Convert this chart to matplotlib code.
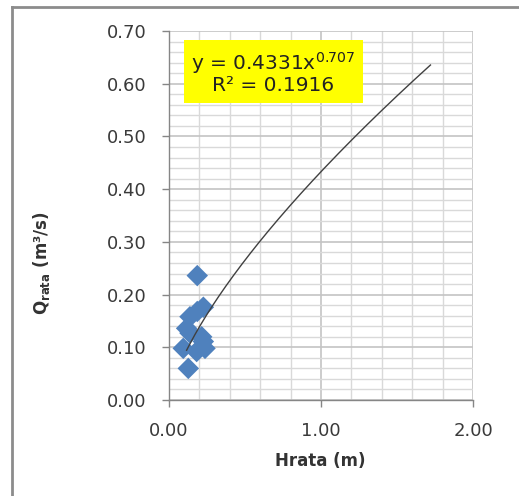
import numpy as np
import matplotlib
matplotlib.use('Agg')
import matplotlib.pyplot as plt
from matplotlib.lines import Line2D
from matplotlib.ticker import MultipleLocator, FormatStrFormatter

# measured points (H, Q)
h_rata = [0.186, 0.226, 0.186, 0.138, 0.116, 0.138, 0.215, 0.226, 0.094, 0.182, 0.237, 0.127]
q_rata = [0.236, 0.176, 0.168, 0.158, 0.136, 0.127, 0.120, 0.111, 0.098, 0.092, 0.098, 0.060]

# power trendline y = a * x^b
coef_a = 0.4331
coef_b = 0.707
trend_start = 0.116
trend_end = 1.72

fig = plt.figure(figsize=(5.19, 4.96), dpi=100)
ax = fig.add_axes([0.3256, 0.1935, 0.5858, 0.744])

ax.set_xlim(0, 2.0)
ax.set_ylim(0, 0.70)
ax.xaxis.set_major_locator(MultipleLocator(1.0))
ax.xaxis.set_minor_locator(MultipleLocator(0.2))
ax.yaxis.set_major_locator(MultipleLocator(0.1))
ax.yaxis.set_minor_locator(MultipleLocator(0.02))
ax.xaxis.set_major_formatter(FormatStrFormatter('%.2f'))
ax.yaxis.set_major_formatter(FormatStrFormatter('%.2f'))

ax.grid(which='minor', color='#d9d9d9', lw=1.0)
ax.grid(which='major', color='#c4c4c4', lw=1.2)
ax.set_axisbelow(True)

for s in ['top', 'right']:
    ax.spines[s].set_visible(False)
for s in ['left', 'bottom']:
    ax.spines[s].set_color('#868686')
    ax.spines[s].set_linewidth(1.0)

ax.tick_params(which='major', length=5, width=1, color='#868686', pad=11,
               labelsize=13, labelcolor='#3a3a3a')
ax.tick_params(which='minor', length=0)

ax.scatter(h_rata, q_rata, marker='D', s=120, color='#4f81bd', edgecolors='none', zorder=3)

xs = np.linspace(trend_start, trend_end, 200)
ax.plot(xs, coef_a * xs ** coef_b, color='#404040', lw=1.0, zorder=4)

ax.text(0.687, 0.621, 'y = 0.4331x$^{0.707}$\nR² = 0.1916', ha='center', va='center',
        fontsize=14.5, linespacing=1.0, color='#222222',
        bbox=dict(boxstyle='square,pad=0.38', fc='#ffff00', ec='none'), zorder=5)

fig.text(320 / 519, 1 - 461 / 496, 'Hrata (m)', ha='center', va='center',
         fontsize=12, fontweight='bold', color='#333333')
fig.text(42 / 519, 1 - 263 / 496, r'Q$_{\mathbf{rata}}$ (m³/s)', rotation=90,
         ha='center', va='center', fontsize=12, fontweight='bold', color='#333333')

# outer chart border (only left and top visible)
fig.add_artist(Line2D([12 / 519, 12 / 519], [0, 1 - 7 / 496], color='#8c8c8c', lw=2))
fig.add_artist(Line2D([12 / 519, 1], [1 - 7 / 496, 1 - 7 / 496], color='#8c8c8c', lw=2))

fig.savefig('out.png', dpi=100)
